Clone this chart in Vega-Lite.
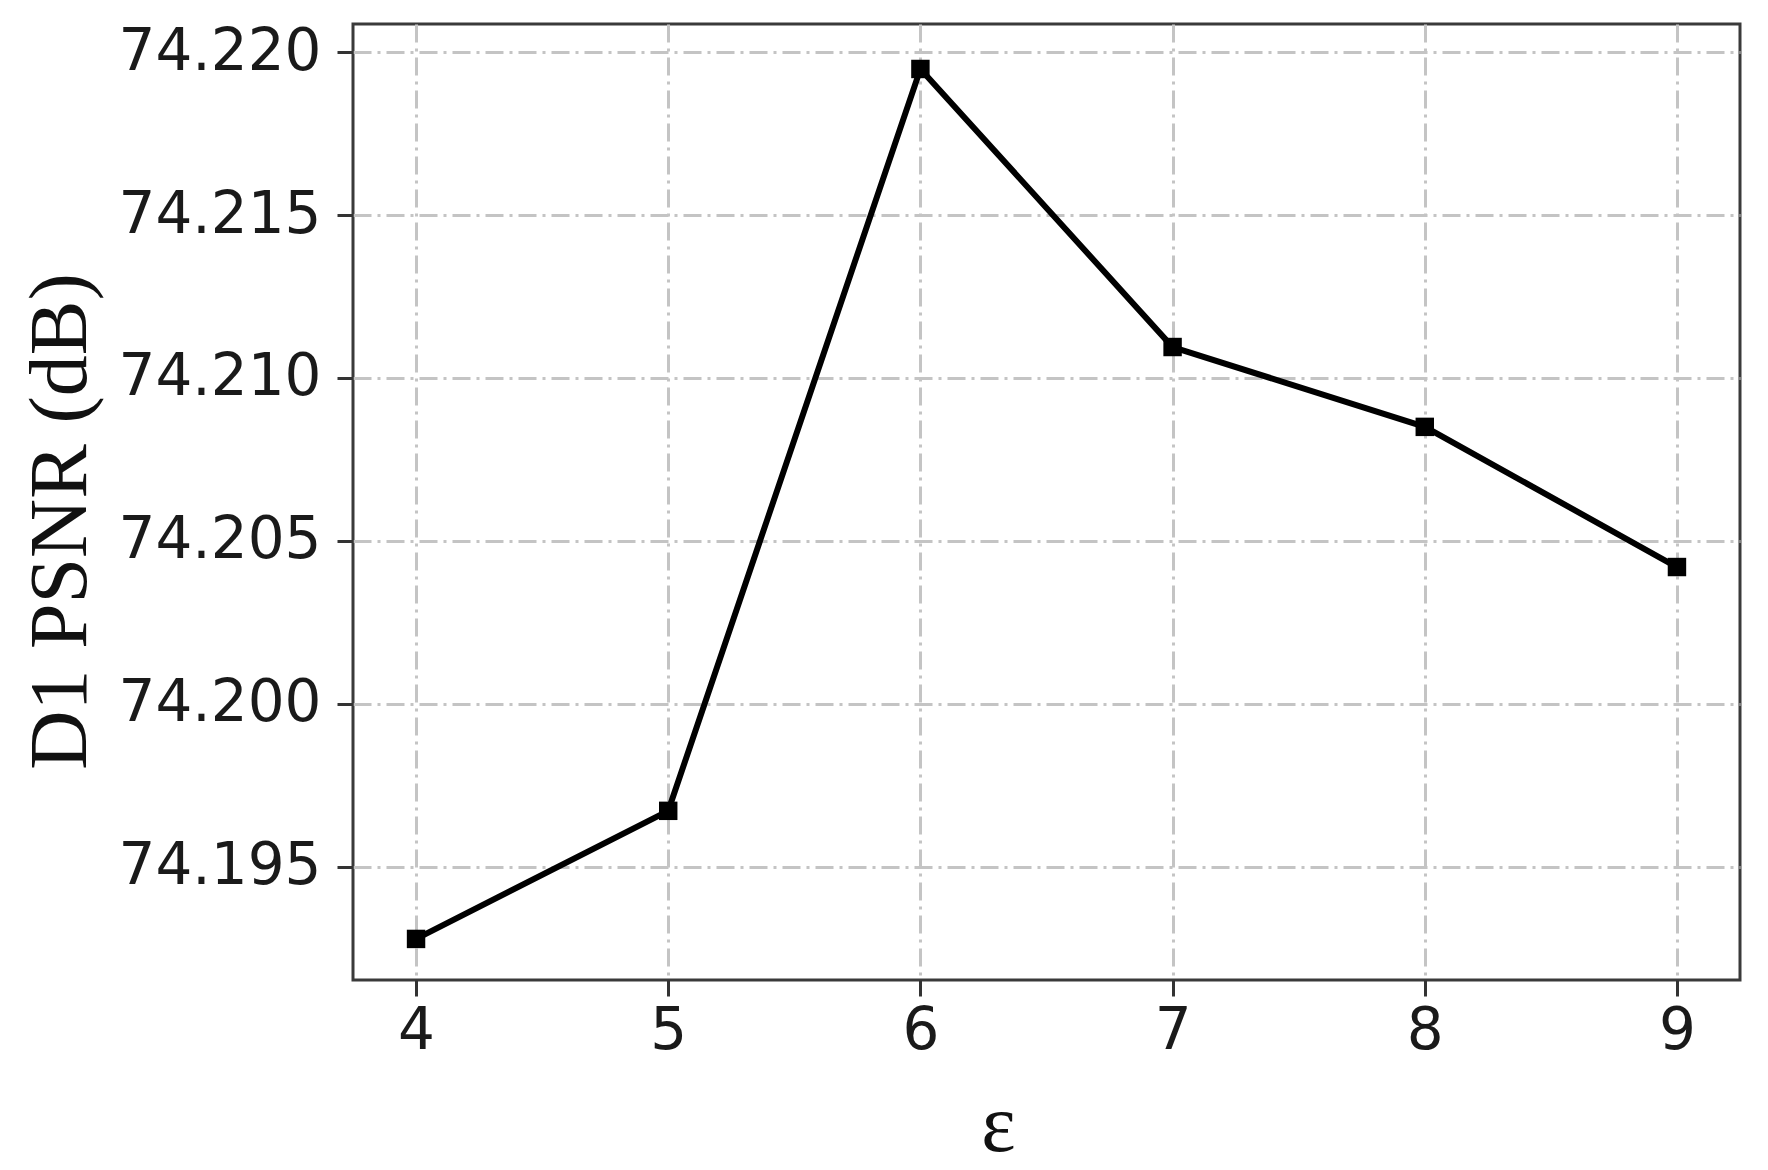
{
  "$schema": "https://vega.github.io/schema/vega-lite/v6.json",
  "autosize": "none",
  "width": 1387,
  "height": 956,
  "padding": {"left": 353, "top": 24, "right": 28, "bottom": 190},
  "background": "white",
  "data": {"values": [
    {"eps": 4, "psnr": 74.19279},
    {"eps": 5, "psnr": 74.19672},
    {"eps": 6, "psnr": 74.21948},
    {"eps": 7, "psnr": 74.21095},
    {"eps": 8, "psnr": 74.2085},
    {"eps": 9, "psnr": 74.2042}
  ]},
  "config": {
    "view": {"stroke": "#3a3a3a", "strokeWidth": 3},
    "axis": {
      "grid": true,
      "gridColor": "#c4c4c4",
      "gridWidth": 3,
      "gridDash": [18, 6, 3, 6],
      "domain": false,
      "tickColor": "#333333",
      "tickWidth": 3,
      "tickSize": 16,
      "labelFont": "DejaVu Sans",
      "labelFontSize": 58,
      "labelLimit": 0,
      "labelColor": "#1a1a1a",
      "titleFont": "Liberation Serif",
      "titleFontWeight": "normal",
      "titleColor": "#111111",
      "titleLimit": 0
    }
  },
  "layer": [
    {
      "mark": {"type": "line", "color": "#000000", "strokeWidth": 6},
      "encoding": {
        "x": {"field": "eps", "type": "quantitative",
              "scale": {"domain": [3.75, 9.25], "nice": false, "zero": false},
              "axis": {"values": [4, 5, 6, 7, 8, 9], "format": "d", "labelPadding": 6,
                       "title": "ε", "titleFontSize": 82, "titleX": 645, "titleY": 170,
                       "titleBaseline": "alphabetic", "titleAlign": "center"}},
        "y": {"field": "psnr", "type": "quantitative",
              "scale": {"domain": [74.19153, 74.22086], "nice": false, "zero": false},
              "axis": {"values": [74.195, 74.2, 74.205, 74.21, 74.215, 74.22], "format": ".3f",
                       "labelPadding": 16,
                       "title": "D1 PSNR (dB)", "titleFontSize": 82, "titleAngle": -90,
                       "titleX": -268, "titleY": 497, "titleBaseline": "alphabetic", "titleAlign": "center"}}
      }
    },
    {
      "mark": {"type": "point", "shape": "square", "filled": true, "color": "#000000", "size": 340, "opacity": 1},
      "encoding": {
        "x": {"field": "eps", "type": "quantitative"},
        "y": {"field": "psnr", "type": "quantitative"}
      }
    }
  ]
}
